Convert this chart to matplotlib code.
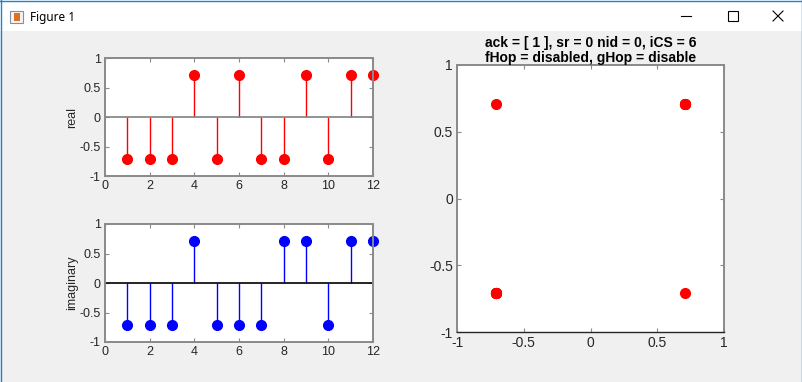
import numpy as np
import matplotlib.pyplot as plt
from matplotlib.patches import Rectangle
from matplotlib.lines import Line2D

plt.rcParams['font.family'] = ['Liberation Sans', 'DejaVu Sans']
plt.rcParams['axes.unicode_minus'] = False

a = 0.7071
n = np.arange(1, 13)
real = [-a, -a, -a, a, -a, a, -a, -a, a, -a, a, a]
imag = [-a, -a, -a, a, -a, -a, -a, a, a, -a, a, a]
ticks_left = [-1, -0.5, 0, 0.5, 1]
ticks_right = [-1, -0.5, 0, 0.5, 1]
tick_labels = ['-1', '-0.5', '0', '0.5', '1']
title = 'ack = [ 1 ], sr = 0 nid = 0, iCS = 6\nfHop = disabled, gHop = disable'

fig = plt.figure(figsize=(8.02, 3.82), dpi=100, facecolor='#f0f0f0')

# window title bar
fig.patches.append(Rectangle((0, 1 - 31/382), 1, 31/382, transform=fig.transFigure,
                             facecolor='white', edgecolor='none', zorder=-1))
fig.add_artist(Line2D([0.5/802, 0.5/802], [0, 1], color='#1883d7', lw=1.0))
fig.add_artist(Line2D([1 - 0.5/802, 1 - 0.5/802], [0, 1], color='#1883d7', lw=1.0))
fig.add_artist(Line2D([0, 1], [1 - 0.5/382, 1 - 0.5/382], color='#1883d7', lw=1.0))
fig.patches.append(Rectangle((10/802, 1 - 23/382), 13/802, 12/382, transform=fig.transFigure,
                             facecolor='#f4f4f4', edgecolor='#8090a8', lw=0.8))
fig.patches.append(Rectangle((14/802, 1 - 21/382), 6/802, 8/382, transform=fig.transFigure,
                             facecolor='#e07020', edgecolor='none'))
fig.text(30/802, 1 - 17/382, 'Figure 1', fontsize=8.5, va='center', ha='left',
         family=['Noto Sans', 'DejaVu Sans'])
fig.add_artist(Line2D([681/802, 691/802], [1 - 16/382] * 2, color='black', lw=0.8))
fig.patches.append(Rectangle((728/802, 1 - 21/382), 10/802, 10/382, transform=fig.transFigure,
                             facecolor='none', edgecolor='black', lw=0.8))
fig.add_artist(Line2D([773/802, 783/802], [1 - 11/382, 1 - 21/382], color='black', lw=0.8))
fig.add_artist(Line2D([773/802, 783/802], [1 - 21/382, 1 - 11/382], color='black', lw=0.8))


def style(ax, fs):
    for s in ax.spines.values():
        s.set_color('#8a8a8a')
        s.set_linewidth(1.4)
    ax.tick_params(direction='in', top=True, right=True, length=3, width=0.8,
                   colors='#8a8a8a', labelcolor='#262626', labelsize=fs, pad=3)


ax1 = fig.add_axes([105/802, 1 - 176/382, 268/802, 118/382])
ax2 = fig.add_axes([105/802, 1 - 342/382, 268/802, 118/382])
ax3 = fig.add_axes([457/802, 1 - 332/382, 267/802, 267/382])

for ax, vals, c, lab, bc in [(ax1, real, 'red', 'real', '#808080'),
                             (ax2, imag, 'blue', 'imaginary', 'black')]:
    ml, sl, bl = ax.stem(n, vals, linefmt='-', markerfmt='o', basefmt='-')
    plt.setp(sl, color=c, linewidth=1.0)
    plt.setp(ml, color=c, markersize=7)
    plt.setp(bl, color=bc, linewidth=1.2)
    bl.set_xdata([0, 12])
    ml.set_clip_on(False)
    ax.set_xlim(0, 12)
    ax.set_ylim(-1, 1)
    ax.set_xticks(range(0, 13, 2))
    ax.set_yticks(ticks_left)
    ax.set_yticklabels(tick_labels)
    ax.set_ylabel(lab, fontsize=9, color='#262626', labelpad=1)
    style(ax, 9)

ax3.plot(real, imag, 'o', color='red', markersize=7, linestyle='none')
ax3.set_xlim(-1, 1)
ax3.set_ylim(-1, 1)
ax3.set_xticks(ticks_right)
ax3.set_yticks(ticks_right)
ax3.set_xticklabels(tick_labels)
ax3.set_yticklabels(tick_labels)
style(ax3, 10)
ax3.spines['bottom'].set_color('#262626')
ax3.spines['bottom'].set_linewidth(1.0)
ax3.set_title(title, fontsize=10, fontweight='bold', color='#000000', pad=2, linespacing=1.1)

fig.savefig('out.png', dpi=100, facecolor=fig.get_facecolor())
